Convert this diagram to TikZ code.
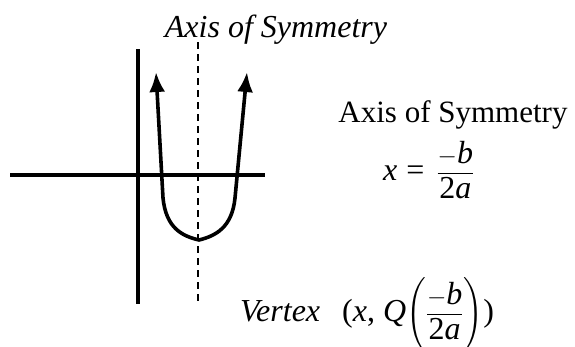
\documentclass[tikz,border=0pt]{standalone}
\usepackage{amsmath}
\usepackage{fontspec}
\setmainfont{Liberation Serif}
\usetikzlibrary{arrows.meta}
\newcommand{\bigfs}{\fontsize{32}{36}\selectfont}
\newcommand{\myfrac}{\dfrac{\mbox{\bigfs$-$\textit{b}}}{\mbox{\bigfs 2\textit{a}}}}
\tikzset{
  axisline/.style={line width=3.6pt},
  curveline/.style={line width=3.6pt, {Latex[length=20pt,width=16pt]}-{Latex[length=20pt,width=16pt]}},
  symline/.style={line width=1.3pt, dash pattern=on 7pt off 5pt},
  lbl/.style={inner sep=0pt, font=\bigfs}
}
\begin{document}
\begin{tikzpicture}[x=1pt,y=-1pt]
\useasboundingbox (0,0) rectangle (575,346);
% axes
\coordinate (xl) at (10,175);
\coordinate (xr) at (265,175);
\coordinate (yt) at (138,49);
\coordinate (yb) at (138,304);
\draw[axisline] (xl) -- (xr);
\draw[axisline] (yt) -- (yb);
% axis of symmetry
\coordinate (st) at (198,42);
\coordinate (sb) at (198,305);
\draw[symline] (st) -- (sb);
% parabola
\coordinate (lt) at (156,72);
\coordinate (rt) at (247,72);
\coordinate (vx) at (199,240);
\draw[curveline] (lt) -- (163,198) .. controls (166,228) and (182,236) .. (vx)
  .. controls (215,236) and (232,228) .. (235,198) -- (rt);
% labels
\node[lbl, font=\bigfs\itshape, anchor=base] (title) at (276,37) {Axis of Symmetry};
\node[lbl, font=\fontsize{31}{35}\selectfont, anchor=base] (aos) at (453,122) {Axis of Symmetry};
\node[lbl, anchor=west] (formula) at (383,170) {\textit{x}\hspace{9pt}=\hspace{12pt}$\myfrac$};
\node[lbl, anchor=base west] (vertex) at (240,321) {\textit{Vertex}\hspace{22pt}(\textit{x}, \textit{Q}$\left(\myfrac\right)$)};
\end{tikzpicture}
\end{document}
